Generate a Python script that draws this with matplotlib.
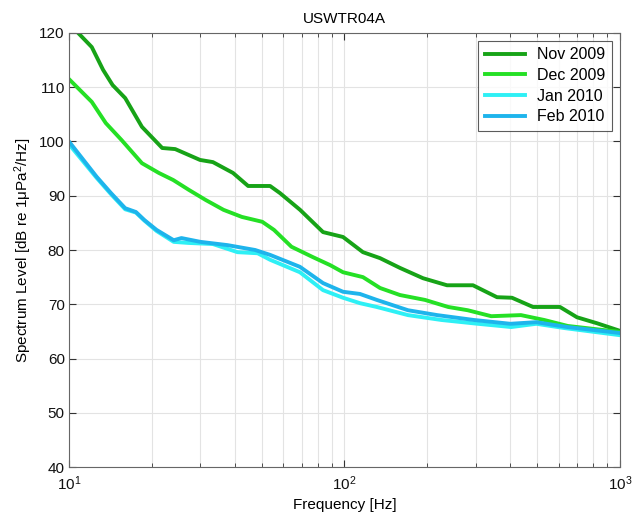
import numpy as np
import matplotlib.pyplot as plt
from matplotlib.ticker import LogLocator, NullFormatter

plt.rcParams['font.family'] = ['Liberation Sans', 'DejaVu Sans']
plt.rcParams['mathtext.fontset'] = 'custom'
plt.rcParams['mathtext.rm'] = 'Liberation Sans'
plt.rcParams['mathtext.it'] = 'Liberation Sans:italic'
plt.rcParams['mathtext.default'] = 'regular'

# Spectrum levels (frequency in Hz, level in dB)
nov_f = [10, 10.8, 12.1, 13.3, 14.4, 16.0, 18.4, 21.8, 24.3, 29.9, 33.3, 39.4,
         44.7, 53.7, 58.3, 69.0, 83.6, 98.8, 116.7, 134.6, 159, 192.8, 235.6,
         292.7, 357.8, 405.5, 483.4, 605.6, 698.2, 825.2, 1000]
nov_db = [121.5, 120, 117.4, 113.2, 110.4, 108, 102.7, 98.8, 98.6, 96.6, 96.2, 94.2,
          91.8, 91.8, 90.5, 87.4, 83.3, 82.4, 79.6, 78.5, 76.7, 74.8, 73.5,
          73.5, 71.3, 71.2, 69.5, 69.5, 67.6, 66.5, 65.1]

dec_f = [10, 12.1, 13.6, 15.5, 18.4, 21.2, 23.9, 27.2, 31.4, 36.4, 42.4, 50.3,
         55.5, 64.2, 76.7, 88.8, 98.8, 116.7, 134.6, 159, 196, 238, 280, 341, 437,
         531, 646, 1000]
dec_db = [111.5, 107.3, 103.4, 100.3, 96.0, 94.2, 92.9, 91.1, 89.2, 87.4, 86.1,
          85.2, 83.7, 80.6, 78.7, 77.2, 75.9, 75.0, 73.0, 71.7, 70.8, 69.5, 68.9,
          67.8, 68.0, 67.1, 66.0, 64.9]

jan_f = [10, 12.6, 14.2, 16.0, 17.5, 18.8, 20.8, 24.0, 27.2, 33.3, 40.9, 48.4,
         53.7, 68.9, 83.6, 98.8, 113.8, 131.0, 170, 225, 305, 403, 497, 631, 1000]
jan_db = [99.5, 93.3, 90.3, 87.5, 86.9, 85.4, 83.5, 81.5, 81.3, 81.1, 79.6, 79.4,
          78.2, 75.9, 72.6, 71.2, 70.2, 69.5, 68.0, 67.1, 66.4, 65.8, 66.4, 65.6, 64.3]

feb_f = [10, 12.6, 14.2, 16.0, 17.5, 18.8, 20.8, 24.0, 25.6, 30.0, 37.6, 47.4,
         53.7, 68.9, 83.6, 98.8, 113.8, 131.0, 170, 217, 295, 400, 497, 645, 1000]
feb_db = [100, 93.5, 90.5, 87.7, 87.0, 85.5, 83.7, 81.8, 82.2, 81.5, 80.9, 80.0,
          79.1, 76.9, 73.9, 72.3, 71.9, 70.8, 68.9, 68.0, 67.1, 66.4, 66.7, 65.8, 64.7]

labels = ['Nov 2009', 'Dec 2009', 'Jan 2010', 'Feb 2010']
colors = ['#17a317', '#25e025', '#2ef0f5', '#1eb4ec']

fig = plt.figure(figsize=(6.41, 5.21), dpi=100)
ax = fig.add_axes([0.1076, 0.1036, 0.8596, 0.8331])

for f, db, lab, c in zip([nov_f, dec_f, jan_f, feb_f],
                         [nov_db, dec_db, jan_db, feb_db], labels, colors):
    ax.plot(f, db, color=c, lw=2.8, label=lab, solid_joinstyle='round')

ax.set_xscale('log')
ax.set_xlim(10, 1000)
ax.set_ylim(40, 120)
ax.set_yticks(range(40, 121, 10))
ax.xaxis.set_minor_locator(LogLocator(base=10, subs=np.arange(2, 10)))
ax.xaxis.set_minor_formatter(NullFormatter())

ax.grid(True, which='major', color='#e3e3e3', lw=0.8)
ax.grid(True, which='minor', axis='x', color='#e3e3e3', lw=0.8)
ax.set_axisbelow(True)

ax.tick_params(which='both', direction='in', top=True, right=True,
               labelsize=11, colors='#333333', labelcolor='#111111')
ax.tick_params(which='major', length=5)
ax.tick_params(which='minor', length=3)
ax.tick_params(axis='y', pad=3)
ax.tick_params(axis='x', pad=5)
for s in ax.spines.values():
    s.set_color('#666666')

ax.set_title('USWTR04A', fontsize=11, pad=7)
ax.set_xlabel('Frequency [Hz]', fontsize=11)
ax.set_ylabel('Spectrum Level [dB re 1$\\mu$Pa$^2$/Hz]', fontsize=11)

leg = ax.legend(loc='upper right', fontsize=11.5, fancybox=False,
                edgecolor='#333333', handlelength=2.5, borderaxespad=0.5,
                labelspacing=0.35)
leg.get_frame().set_linewidth(0.8)

fig.savefig('out.png', dpi=100)
